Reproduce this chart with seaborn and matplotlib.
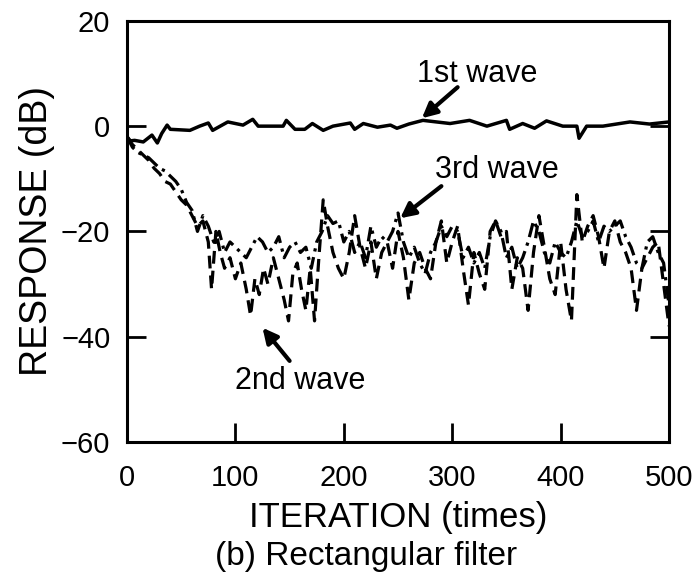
"""Response vs iteration, rectangular filter (panel b)."""
import numpy as np
import pandas as pd
import matplotlib
matplotlib.use("Agg")
import matplotlib.pyplot as plt
import seaborn as sns

# ── data ──────────────────────────────────────────────────────
wave1_x = [0, 3, 7, 15, 23, 28, 32, 37, 40, 58, 67, 75, 79, 93, 107, 116, 121,
           144, 147, 155, 164, 171, 181, 190, 206, 210, 218, 231, 243, 249,
           260, 273, 298, 316, 332, 350, 353, 365, 376, 387, 402, 415, 417,
           424, 439, 464, 482, 500]
wave1_y = [-2.0, -2.8, -2.7, -3.0, -1.7, -3.2, -1.4, 0.2, -0.6, -0.8, 0.0, 0.6,
           -0.8, 0.8, 0.2, 1.3, 0.0, 0.0, 1.1, -0.6, -0.6, 0.5, -0.8, 0.0, 0.6,
           -0.6, 0.5, -0.2, 0.2, -0.4, 0.4, 1.1, 0.5, 1.1, 0.0, 1.1, -0.6, 0.5,
           -0.4, 1.0, 0.0, 0.0, -2.3, 0.0, 0.0, 0.8, 0.4, 0.8]

wave2_x = [0, 5, 10, 15, 20, 25, 30, 35, 40, 45, 50, 55, 60, 65, 70, 75, 78,
           82, 86, 90, 95, 100, 105, 110, 114, 118, 122, 126, 130, 135, 140,
           145, 149, 153, 157, 161, 165, 169, 173, 177, 181, 185, 190, 195,
           200, 205, 210, 215, 220, 225, 230, 235, 240, 245, 250, 255, 260,
           265, 270, 275, 280, 285, 290, 295, 300, 305, 310, 315, 320, 325,
           330, 335, 340, 345, 350, 355, 360, 365, 370, 375, 380, 385, 390,
           395, 400, 405, 410, 415, 420, 425, 430, 435, 440, 445, 450, 455,
           460, 465, 470, 475, 480, 485, 490, 495, 500]
wave2_y = [-2, -3.5, -4.5, -5.5, -6.5, -8, -9, -10.5, -11, -12.5, -14, -15,
           -17, -19, -18, -22, -31, -20, -24, -27, -25, -29, -26, -31, -36,
           -29, -32, -27, -30, -25, -29, -33, -37, -28, -26, -31, -35, -27,
           -37, -25, -14, -19, -24, -27, -29, -24, -17, -23, -27, -22, -29,
           -24, -22, -27, -20, -25, -33, -26, -24, -27, -29, -22, -18, -26,
           -22, -19, -27, -34, -24, -28, -31, -20, -18, -21, -20, -31, -25,
           -27, -35, -24, -17, -23, -29, -32, -22, -31, -37, -13, -22, -19,
           -17, -21, -27, -20, -18, -22, -24, -27, -35, -27, -25, -23, -22,
           -30, -38]

wave3_x = list(range(0, 505, 5))
wave3_y = [-2, -4, -5, -5.5, -6, -7, -8, -8.5, -9.5, -10.5, -12, -14.5, -16,
           -20, -17, -19, -22, -20, -24, -22, -23, -24, -25, -23, -21, -22,
           -24, -23, -21, -25, -23, -22, -24, -23, -27, -22, -20, -17, -18.5,
           -18, -22, -20, -24, -22, -25, -19, -23, -21, -22, -20, -16.5, -22,
           -25, -23, -26, -28, -24, -22, -19, -21, -19, -20, -25, -23, -26,
           -24, -27, -21, -18, -20, -25, -23, -27, -25, -22, -18, -20, -24,
           -26, -22, -24, -25, -22, -18, -21, -20, -18, -22, -19, -20, -19,
           -18, -21, -23, -26, -27, -22, -21, -24, -26, -34]

x_ticks = [0, 100, 200, 300, 400, 500]
y_ticks = [-60, -40, -20, 0, 20]

# ── style ─────────────────────────────────────────────────────
sns.set_style("white")
plt.rcParams["font.family"] = ["Liberation Sans", "DejaVu Sans"]
plt.rcParams["text.color"] = "black"
plt.rcParams["axes.labelcolor"] = "black"

fig = plt.figure(figsize=(6.94, 5.8), dpi=100)
ax = fig.add_axes([0.183, 0.238, 0.781, 0.726])

sns.lineplot(x=wave1_x, y=wave1_y, ax=ax, color="black", lw=2.5,
             linestyle="-", estimator=None, sort=False)
sns.lineplot(x=wave2_x, y=wave2_y, ax=ax, color="black", lw=2.3,
             linestyle=(0, (4, 2.2)), estimator=None, sort=False)
sns.lineplot(x=wave3_x, y=wave3_y, ax=ax, color="black", lw=2.3,
             linestyle=(0, (4.5, 1.8, 1, 1.8)), estimator=None, sort=False)

ax.set_xlim(0, 500)
ax.set_ylim(-60, 20)
ax.set_xticks(x_ticks)
ax.set_yticks(y_ticks)
ax.tick_params(axis="both", direction="in", length=14, width=2.0,
               labelsize=21, colors="black")
ax.tick_params(axis="y", right=True, left=True, pad=12)
ax.tick_params(axis="x", top=False, bottom=True, pad=16)
for s in ax.spines.values():
    s.set_visible(True)
    s.set_color("black")
    s.set_linewidth(2.2)

ax.set_xlabel("ITERATION (times)", fontsize=25, labelpad=6)
ax.set_ylabel("RESPONSE (dB)", fontsize=27, labelpad=4)

arrow = dict(arrowstyle="-|>", color="black", lw=3, mutation_scale=22,
             shrinkA=0, shrinkB=0)
ax.annotate("", xy=(272, 1.5), xytext=(305, 7.4), arrowprops=arrow)
ax.text(323, 10, "1st wave", fontsize=22, ha="center", va="center")
ax.annotate("", xy=(252, -17.5), xytext=(290, -11.4), arrowprops=arrow)
ax.text(341, -8.4, "3rd wave", fontsize=22, ha="center", va="center")
ax.annotate("", xy=(125, -38.3), xytext=(150, -44.6), arrowprops=arrow)
ax.text(160, -48.4, "2nd wave", fontsize=22, ha="center", va="center")

fig.text(0.527, 0.040, "(b) Rectangular filter", fontsize=24,
         ha="center", va="center")

fig.savefig("out.png", dpi=100)
